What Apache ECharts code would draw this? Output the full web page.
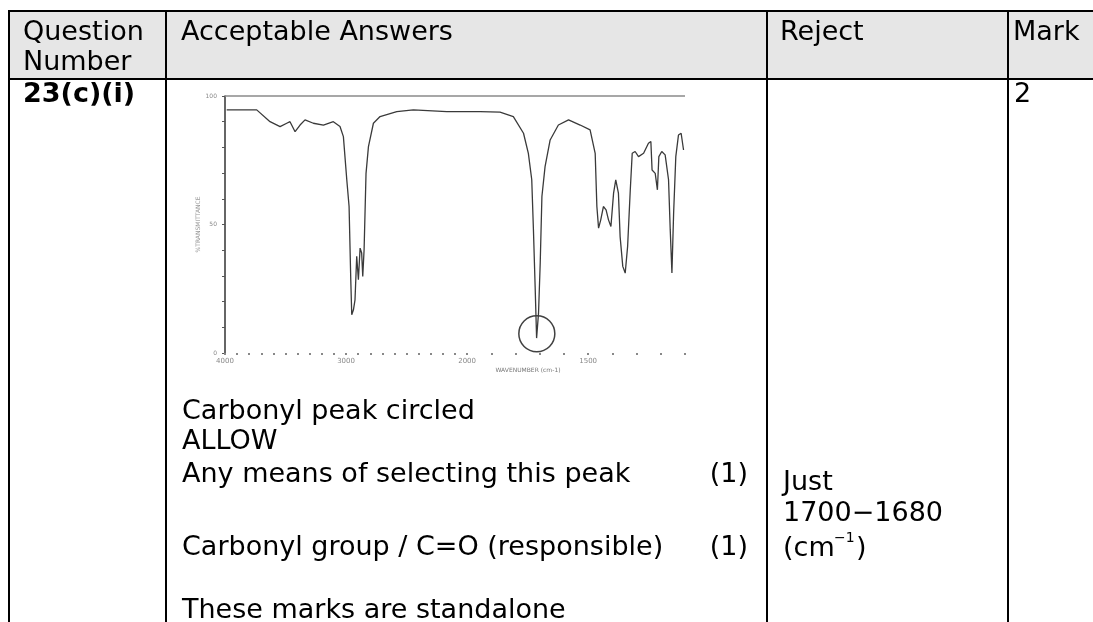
<!DOCTYPE html>
<html>
<head>
<meta charset="utf-8">
<script src="https://cdn.jsdelivr.net/npm/echarts@6/dist/echarts.min.js"></script>
<style>
  html, body { margin: 0; padding: 0; background: #fff; }
  #chart { width: 1093px; height: 622px; }
</style>
</head>
<body>
<div id="chart"></div>
<script>
  // IR spectrum: wavenumber (cm-1) and % transmittance
  const wavenumbers = [
    3986, 3738, 3628, 3545, 3490, 3463, 3421, 3380, 3339, 3270, 3187, 3105, 3050, 3022,
    2994, 2975, 2961, 2953, 2939, 2926, 2912, 2898, 2884, 2871, 2862, 2851, 2835, 2815,
    2774, 2719, 2581, 2444, 2168, 1946, 1864, 1809, 1767, 1747, 1733, 1726, 1719, 1713,
    1705, 1698, 1691, 1678, 1657, 1623, 1581, 1533, 1492, 1471, 1464, 1457, 1448, 1437,
    1426, 1416, 1406, 1395, 1386, 1375, 1368, 1357, 1347, 1337, 1326, 1318, 1306, 1292,
    1271, 1251, 1241, 1236, 1223, 1214, 1208, 1196, 1182, 1168, 1161, 1154, 1147, 1138,
    1127, 1116, 1106
  ];
  const transmittance = [
    94.6, 94.6, 90.0, 88.1, 89.4, 90.0, 86.1, 88.7, 90.7, 89.4, 88.7, 90.0, 88.1, 84.2,
    67.4, 57.0, 28.5, 14.9, 16.8, 20.7, 37.6, 28.5, 40.8, 38.9, 29.8, 40.2, 69.9, 80.3,
    89.4, 92.0, 93.9, 94.6, 93.9, 93.9, 93.7, 92.0, 85.5, 77.7, 67.4, 47.9, 25.9, 5.8,
    15.5, 35.0, 60.9, 72.5, 82.9, 88.7, 90.7, 88.7, 86.8, 77.7, 57.0, 48.6, 51.8, 57.0,
    55.7, 51.8, 49.2, 62.2, 67.4, 62.2, 45.3, 33.7, 31.1, 41.5, 63.5, 77.7, 78.4, 76.4,
    77.7, 81.6, 82.3, 71.2, 69.9, 63.5, 76.4, 78.4, 77.1, 67.4, 47.9, 31.1, 54.4, 76.4,
    84.8, 85.5, 79.0
  ];
  // circled carbonyl peak
  const circledPeak = [1712, 7.5];

  const tickWavenumbers = [];
  for (let w = 4000; w >= 1100; w -= 100) tickWavenumbers.push(w);
  const labelWavenumbers = [4000, 3000, 2000, 1500];
  const yTickLabels = [0, 50, 100];

  // the spectrum's x scale doubles below 2000 cm-1
  const toAxis = (wn) => (wn >= 2000 ? 4000 - wn : 2000 + 2 * (2000 - wn));
  const fromAxis = (t) => (t <= 2000 ? 4000 - t : 2000 - (t - 2000) / 2);

  const FONT = '"DejaVu Sans", Verdana, sans-serif';
  const body = (px, bold) => (bold ? 'bold ' : '') + px + 'px ' + FONT;

  const txt = (text, x, y, opts = {}) => ({
    type: 'text',
    z: 10,
    style: {
      text: text,
      x: x,
      y: y,
      font: opts.font || body(27),
      fill: opts.fill || '#000',
      textAlign: opts.align || 'left',
      textVerticalAlign: 'middle',
    },
  });
  const ln = (x1, y1, x2, y2) => ({
    type: 'line',
    z: 9,
    shape: { x1, y1, x2, y2 },
    style: { stroke: '#000', lineWidth: 2 },
  });

  const graphic = [
    { type: 'rect', z: 1, shape: { x: 9, y: 11, width: 1100, height: 68 }, style: { fill: '#e6e6e6' } },
    ln(8, 11, 1093, 11),
    ln(8, 79, 1093, 79),
    ln(9, 10, 9, 622),
    ln(166, 10, 166, 622),
    ln(767, 10, 767, 622),
    ln(1008, 10, 1008, 622),

    txt('Question', 23, 33),
    txt('Number', 23, 63),
    txt('Acceptable Answers', 181, 33),
    txt('Reject', 780, 33),
    txt('Mark', 1013, 33),

    txt('23(c)(i)', 23, 95, { font: body(27, true) }),
    txt('2', 1014, 95),

    txt('Carbonyl peak circled', 182, 412),
    txt('ALLOW', 182, 442),
    txt('Any means of selecting this peak', 182, 475),
    txt('(1)', 748, 475, { align: 'right' }),
    txt('Carbonyl group / C=O (responsible)', 182, 548),
    txt('(1)', 748, 548, { align: 'right' }),
    txt('These marks are standalone', 182, 611),

    txt('Just', 783, 483),
    txt('1700\u22121680', 783, 514),
    txt('(cm', 783, 549),
    txt('\u22121', 834, 538, { font: body(14) }),
    txt(')', 856, 549),

    txt('WAVENUMBER (cm-1)', 528, 370, { font: body(6), fill: '#777', align: 'center' }),
  ];

  const chart = echarts.init(document.getElementById('chart'));
  const option = {
    animation: false,
    backgroundColor: '#fff',
    graphic: graphic,
    grid: { left: 225, top: 96, width: 460, height: 257 },
    xAxis: {
      type: 'value',
      min: 0,
      max: 3800,
      axisLine: { show: false },
      splitLine: { show: false },
      axisTick: {
        show: true,
        customValues: tickWavenumbers.map(toAxis),
        length: 2,
        lineStyle: { color: '#888', width: 2 },
      },
      axisLabel: {
        customValues: labelWavenumbers.map(toAxis),
        formatter: (v) => String(Math.round(fromAxis(v))),
        fontSize: 7,
        color: '#888',
        margin: 5,
        fontFamily: FONT,
      },
    },
    yAxis: {
      type: 'value',
      min: 0,
      max: 100,
      interval: 10,
      axisLine: { show: true, lineStyle: { color: '#333', width: 1.5 } },
      axisTick: { show: true, length: 3, lineStyle: { color: '#555' } },
      splitLine: { show: false },
      axisLabel: {
        formatter: (v) => (yTickLabels.includes(v) ? String(v) : ''),
        fontSize: 6,
        color: '#888',
        margin: 8,
        fontFamily: FONT,
      },
      name: '%TRANSMITTANCE',
      nameLocation: 'middle',
      nameRotate: 90,
      nameGap: 24,
      nameTextStyle: { fontSize: 6, color: '#999', fontFamily: FONT },
    },
    series: [
      {
        type: 'line',
        data: wavenumbers.map((w, i) => [toAxis(w), transmittance[i]]),
        showSymbol: false,
        lineStyle: { color: '#3a3a3a', width: 1.3 },
        silent: true,
        markLine: {
          silent: true,
          symbol: 'none',
          label: { show: false },
          lineStyle: { color: '#8a8a8a', width: 1.5, type: 'solid' },
          data: [{ yAxis: 100 }],
        },
      },
      {
        type: 'scatter',
        data: [[toAxis(circledPeak[0]), circledPeak[1]]],
        symbol: 'circle',
        symbolSize: 36,
        silent: true,
        itemStyle: { color: 'rgba(0,0,0,0)', borderColor: '#111', borderWidth: 1.5 },
      },
    ],
  };
  chart.setOption(option);
</script>
</body>
</html>
